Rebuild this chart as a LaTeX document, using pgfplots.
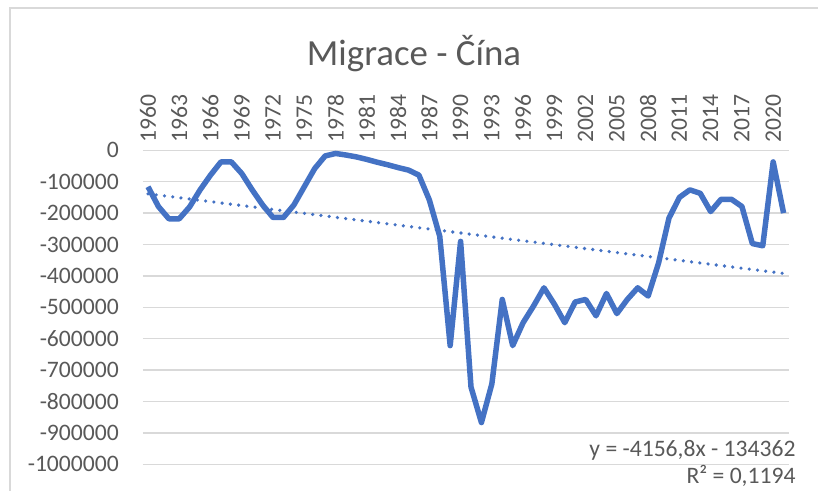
\documentclass[border=0pt]{standalone}
\usepackage{fontspec}
\setmainfont{Carlito}
\usepackage{pgfplots}
\pgfplotsset{compat=1.18}

\definecolor{serie}{HTML}{4472C4}
\definecolor{popis}{HTML}{595959}
\definecolor{mrizka}{HTML}{D9D9D9}

\newcommand{\tickfont}{\fontsize{23.7}{28}\selectfont}

\begin{document}
\begin{tikzpicture}
\path[use as bounding box] (0,0) rectangle (818bp,-491bp);

% ramecek grafu
\draw[mrizka, line width=1.5bp] (10bp,-491bp) -- (10bp,-8bp) -- (818bp,-8bp);

\node[anchor=base, text=popis, font=\fontsize{37}{44}\selectfont] at (414bp,-65bp) {Migrace - Čína};

\begin{axis}[
    at={(142.8bp,-464.3bp)}, anchor=south west,
    scale only axis,
    width=646bp, height=314bp,
    xmin=0.5, xmax=62.5,
    ymin=-1000000, ymax=0,
    scaled y ticks=false,
    axis line style={draw=none},
    major tick length=0pt,
    ymajorgrids=true,
    grid style={mrizka, line width=1.3bp},
    xtick={1,4,...,61},
    xticklabels={1960,1963,1966,1969,1972,1975,1978,1981,1984,1987,1990,1993,1996,1999,2002,2005,2008,2011,2014,2017,2020},
    xticklabel pos=upper,
    xticklabel style={font=\tickfont, text=popis, rotate=90, anchor=west, inner sep=0pt, inner xsep=8bp},
    ytick={-1000000,-900000,-800000,-700000,-600000,-500000,-400000,-300000,-200000,-100000,0},
    yticklabels={-1000000,-900000,-800000,-700000,-600000,-500000,-400000,-300000,-200000,-100000,0},
    yticklabel style={font=\tickfont, text=popis, anchor=east, inner sep=0pt, xshift=-23.8bp},
]
\addplot[serie, line width=5.5bp, line join=round, no markers] coordinates {
(1,-116000) (2,-179000) (3,-218000) (4,-218000) (5,-180000) (6,-126000)
(7,-79000) (8,-37000) (9,-37000) (10,-74000) (11,-126000) (12,-174000)
(13,-214000) (14,-214000) (15,-174000) (16,-116000) (17,-58000) (18,-18000)
(19,-10000) (20,-15000) (21,-21000) (22,-29000) (23,-38000) (24,-46000)
(25,-55000) (26,-63000) (27,-79000) (28,-158000) (29,-274000) (30,-622000)
(31,-290000) (32,-754000) (33,-867000) (34,-744000) (35,-475000) (36,-622000)
(37,-549000) (38,-496000) (39,-438000) (40,-490000) (41,-549000) (42,-483000)
(43,-475000) (44,-527000) (45,-456000) (46,-520000) (47,-475000) (48,-438000)
(49,-464000) (50,-359000) (51,-216000) (52,-150000) (53,-126000) (54,-137000)
(55,-195000) (56,-156000) (57,-156000) (58,-179000) (59,-297000) (60,-304000)
(61,-37000) (62,-200000)
};
% linearni trend y = -4156,8x - 134362
\addplot[serie, line width=3.6bp, line cap=round, dash pattern=on 0bp off 8.3bp, no markers] coordinates {
(1,-138518.8) (62,-392083.6)
};
\end{axis}

\node[anchor=base east, text=popis, font=\tickfont] at (799bp,-456.7bp) {y = -4156,8x - 134362};
\node[anchor=base east, text=popis, font=\tickfont] at (799bp,-483.3bp) {R² = 0,1194};
\end{tikzpicture}
\end{document}
